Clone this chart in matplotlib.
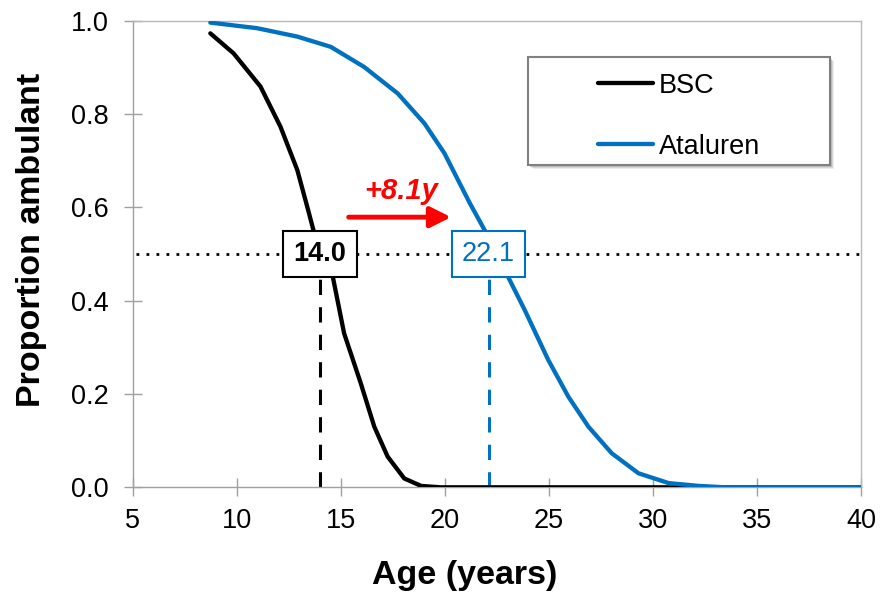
import matplotlib
matplotlib.use("Agg")
import matplotlib.pyplot as plt
from matplotlib.patches import Rectangle

plt.rcParams['font.family'] = ['Liberation Sans', 'DejaVu Sans']

# Data
bsc_age = [8.73, 9.85, 11.14, 12.10, 12.91, 13.39, 13.71, 14.60, 15.16, 15.96,
           16.61, 17.25, 18.05, 18.86, 19.8, 40.0]
bsc_prop = [0.973, 0.930, 0.859, 0.773, 0.680, 0.601, 0.547, 0.455, 0.330, 0.223,
            0.130, 0.066, 0.019, 0.003, 0.0, 0.0]

atal_age = [8.73, 10.98, 12.91, 14.52, 16.12, 17.74, 19.02, 19.98, 21.2, 21.99,
            23.04, 23.84, 24.97, 25.94, 26.90, 28.02, 29.31, 30.76, 32.21, 33.5, 40.0]
atal_prop = [0.996, 0.984, 0.966, 0.944, 0.901, 0.844, 0.780, 0.716, 0.609, 0.545,
             0.451, 0.380, 0.273, 0.194, 0.130, 0.073, 0.030, 0.009, 0.003, 0.0, 0.0]

median_bsc = 14.0
median_atal = 22.1
gain_label = "+8.1y"

BLUE = "#0070C0"
AXIS_GRAY = "#A0A0A0"

fig = plt.figure(figsize=(8.8, 5.94), dpi=100)
ax = fig.add_axes([0.1508, 0.1796, 0.8276, 0.7855])

# Curves
ax.plot(bsc_age, bsc_prop, color="black", lw=3.1, label="BSC", zorder=3,
        solid_joinstyle="round", solid_capstyle="round")
ax.plot(atal_age, atal_prop, color=BLUE, lw=3.1, label="Ataluren", zorder=3,
        solid_joinstyle="round", solid_capstyle="round")

# 50% reference line and medians
ax.plot([5.15, 40], [0.5, 0.5], color="black", lw=2, linestyle=(0, (1, 2.6)), zorder=2)
ax.plot([median_bsc, median_bsc], [0, 0.5], color="black", lw=2.2,
        linestyle=(0, (5, 4)), zorder=2)
ax.plot([median_atal, median_atal], [0, 0.5], color=BLUE, lw=2.2,
        linestyle=(0, (5, 4)), zorder=2)

ax.text(median_bsc, 0.5, f"{median_bsc:.1f}", fontsize=19.5, fontweight="bold",
        ha="center", va="center", zorder=6,
        bbox=dict(boxstyle="square,pad=0.38", fc="white", ec="black", lw=1.5))
ax.text(median_atal, 0.5, f"{median_atal:.1f}", fontsize=19.5, color=BLUE,
        ha="center", va="center", zorder=6,
        bbox=dict(boxstyle="square,pad=0.38", fc="white", ec=BLUE, lw=1.5))

# Shift arrow
ax.annotate("", xy=(20.3, 0.579), xytext=(15.38, 0.579),
            arrowprops=dict(arrowstyle="-|>,head_length=0.5,head_width=0.25",
                            color="red", lw=3.5, mutation_scale=25,
                            shrinkA=0, shrinkB=0), zorder=5)
ax.text(17.9, 0.636, gain_label, fontsize=21, fontweight="bold", style="italic",
        color="red", ha="center", va="center", zorder=5)

# Axes
ax.set_xlim(5, 40)
ax.set_ylim(0, 1.0)
ax.set_xticks(range(5, 41, 5))
ax.set_yticks([0, 0.2, 0.4, 0.6, 0.8, 1.0])
ax.set_yticklabels([f"{v:.1f}" for v in [0, 0.2, 0.4, 0.6, 0.8, 1.0]])
ax.tick_params(axis="both", direction="inout", length=12.5, width=1,
               color=AXIS_GRAY, labelsize=19.5, labelcolor="black")
ax.tick_params(axis="y", pad=11)
ax.tick_params(axis="x", pad=9)
for side in ["left", "bottom"]:
    ax.spines[side].set_color(AXIS_GRAY)
    ax.spines[side].set_linewidth(1)
for side in ["top", "right"]:
    ax.spines[side].set_color("#B8B8B8")
    ax.spines[side].set_linewidth(1)

ax.set_xlabel("Age (years)", fontsize=24.5, fontweight="bold")
ax.xaxis.set_label_coords(0.456, -0.156)
ax.set_ylabel("Proportion ambulant", fontsize=24.5, fontweight="bold")
ax.yaxis.set_label_coords(-0.118, 0.530)

# Legend box with shadow
bx, by, bw, bh = 0.543, 0.691, 0.414, 0.231
for i, a in enumerate([0.12, 0.18, 0.25]):
    off = 0.006 - i * 0.0015
    ax.add_patch(Rectangle((bx + off, by - off * 1.56), bw, bh, transform=ax.transAxes,
                           fc="#707070", ec="none", alpha=a, zorder=7))
ax.add_patch(Rectangle((bx, by), bw, bh, transform=ax.transAxes,
                       fc="white", ec="#808080", lw=1.5, zorder=8))
leg = ax.legend(loc="center", bbox_to_anchor=(bx + bw / 2, by + bh / 2 - 0.011),
                frameon=False, fontsize=19.5, handlelength=2.05,
                handletextpad=0.2, labelspacing=1.3)
leg.set_zorder(9)

plt.savefig("out.png", dpi=100)
